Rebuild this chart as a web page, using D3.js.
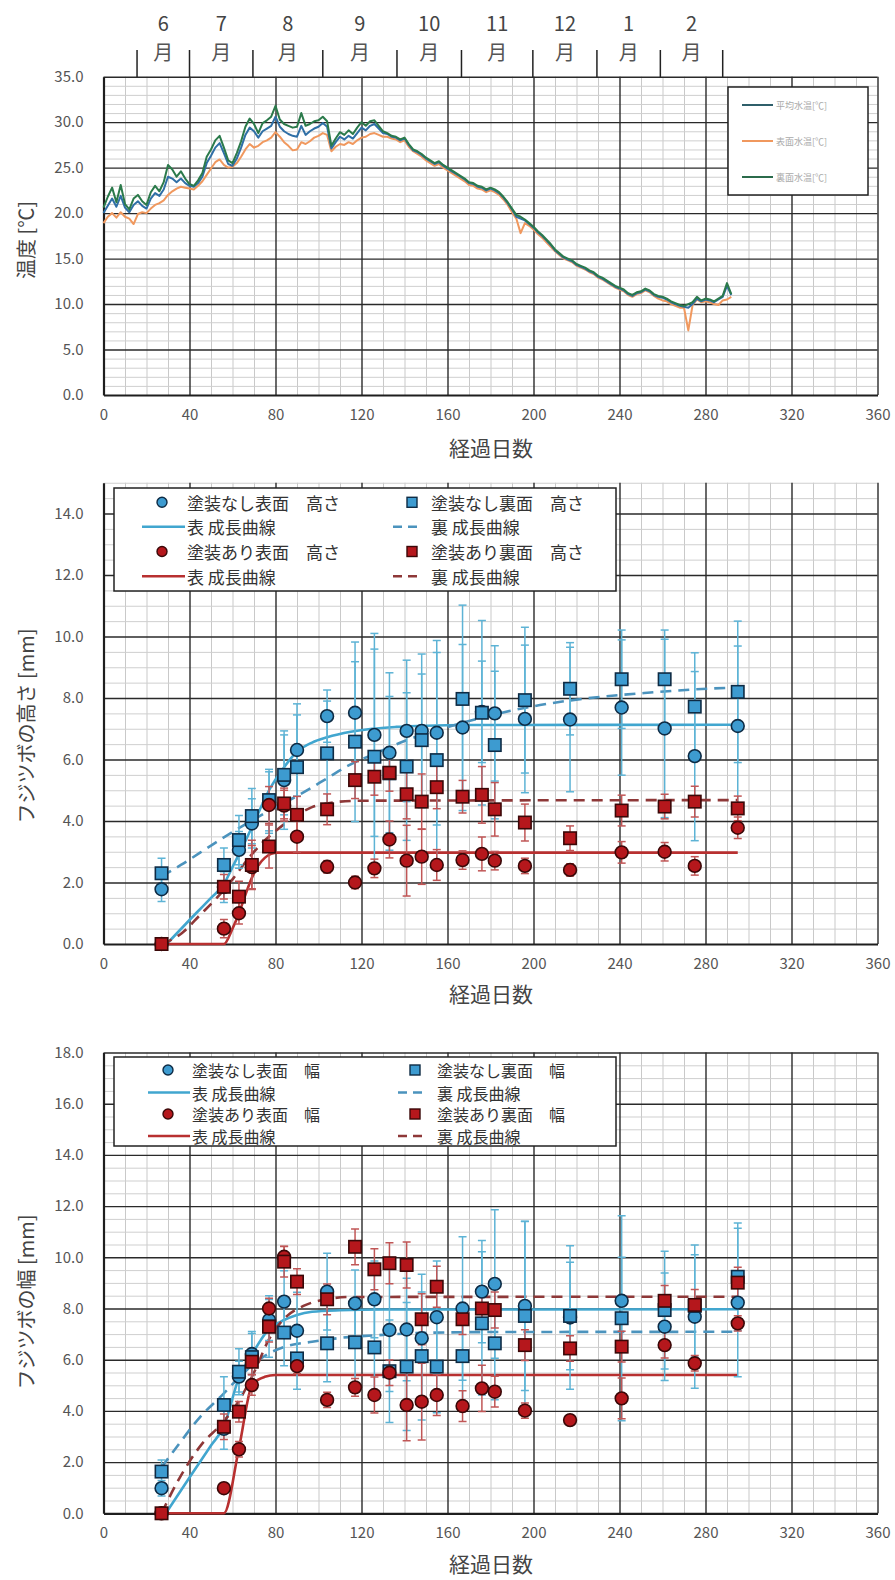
<!DOCTYPE html>
<html>
<head>
<meta charset="utf-8">
<script src="https://cdn.jsdelivr.net/npm/d3@7"></script>
<style>
  body { margin: 0; background: #fff; }
  svg text { font-family: "Noto Sans CJK JP", "Noto Sans", sans-serif; }
</style>
</head>
<body>
<svg id="chart" width="895" height="1580"></svg>
<script>
// ---------------- Water temperature (every 2 days from day 0) ----------------
const TEMP_START = 0;
const TEMP_STEP = 2;
const tempBack = [ // 裏面水温
  20.6, 21.8, 22.8, 21.2, 23.1, 21.0, 20.4, 21.6, 22.0, 21.3,
  20.9, 22.3, 23.0, 22.4, 23.4, 25.3, 24.8, 24.0, 24.6, 23.8,
  23.2, 23.0, 23.6, 24.4, 26.2, 27.0, 28.0, 28.5, 27.2, 25.8,
  25.5, 26.6, 27.9, 29.5, 30.4, 29.8, 28.8, 29.9, 30.2, 30.6,
  31.8, 30.3, 29.8, 29.6, 29.4, 29.5, 31.0, 29.6, 29.8, 30.1,
  30.2, 30.6, 30.1, 27.4, 28.2, 28.9, 28.6, 29.1, 28.7, 29.4,
  30.0, 29.6, 30.1, 30.2, 29.6, 29.0, 28.8, 28.5, 28.4, 28.1,
  28.3, 27.6, 27.0, 26.8, 26.5, 26.1, 25.8, 25.5, 25.7, 25.3,
  25.0, 24.7, 24.4, 24.1, 23.8, 23.4, 23.3, 23.0, 22.9, 22.6,
  22.8, 22.6, 22.3, 21.8, 21.2, 20.5, 19.8, 19.6, 19.3, 18.9,
  18.5, 18.0, 17.6, 17.1, 16.6, 16.0, 15.6, 15.2, 15.0, 14.8,
  14.4, 14.2, 14.0, 13.7, 13.5, 13.1, 12.9, 12.6, 12.3, 12.0,
  11.8, 11.6, 11.2, 11.0, 11.3, 11.4, 11.7, 11.5, 11.1, 10.9,
  10.8, 10.6, 10.3, 10.1, 9.9, 9.8, 10.0, 10.2, 10.8, 10.4,
  10.6, 10.5, 10.3, 10.6, 10.9, 12.3, 11.1
];
const tempMean = [ // 平均水温
  20.0, 20.8, 21.6, 20.7, 21.9, 20.6, 20.1, 20.9, 21.3, 20.8,
  20.5, 21.6, 22.2, 21.9, 22.6, 24.0, 23.8, 23.4, 23.8, 23.3,
  23.0, 22.9, 23.3, 24.0, 25.5, 26.3, 27.2, 27.7, 26.6, 25.4,
  25.2, 26.0, 27.2, 28.6, 29.4, 29.0, 28.3, 29.0, 29.3, 29.6,
  30.6, 29.5, 29.0, 28.7, 28.5, 28.4, 29.6, 28.6, 29.0, 29.3,
  29.5, 29.9, 29.5, 27.1, 27.8, 28.4, 28.1, 28.5, 28.2, 28.8,
  29.4, 29.1, 29.6, 29.8, 29.3, 28.8, 28.7, 28.4, 28.3, 28.0,
  28.2, 27.5, 26.9, 26.7, 26.4, 26.0, 25.7, 25.4, 25.6, 25.2,
  24.9, 24.6, 24.3, 24.0, 23.7, 23.3, 23.2, 22.9, 22.8, 22.5,
  22.7, 22.5, 22.2, 21.7, 21.1, 20.4, 19.6, 19.4, 19.2, 18.8,
  18.4, 17.9, 17.5, 17.0, 16.5, 15.9, 15.5, 15.1, 14.9, 14.7,
  14.3, 14.1, 13.9, 13.6, 13.4, 13.0, 12.8, 12.5, 12.2, 11.9,
  11.7, 11.5, 11.1, 10.9, 11.2, 11.3, 11.6, 11.4, 11.0, 10.8,
  10.7, 10.5, 10.2, 10.0, 9.8, 9.7, 9.6, 10.0, 10.6, 10.3,
  10.5, 10.4, 10.2, 10.5, 10.8, 12.0, 11.0
];
const tempFront = [ // 表面水温
  18.9, 19.6, 20.0, 19.5, 20.1, 19.6, 19.4, 18.8, 19.9, 20.1,
  20.0, 20.5, 20.9, 21.1, 21.4, 22.0, 22.4, 22.7, 22.9, 22.8,
  22.7, 22.6, 23.0, 23.5, 24.2, 24.9, 25.6, 25.9, 25.3, 25.0,
  25.1, 25.5, 26.2, 27.0, 27.6, 27.2, 27.4, 27.8, 28.0, 28.3,
  28.9, 28.4, 27.8, 27.4, 26.9, 27.0, 27.8, 27.6, 27.9, 28.3,
  28.5, 28.8, 28.6, 26.8, 27.3, 27.6, 27.5, 27.8, 27.6, 28.0,
  28.3, 28.4, 28.7, 28.8, 28.6, 28.4, 28.4, 28.2, 28.1, 27.8,
  28.0, 27.3, 26.8, 26.5, 26.2, 25.8, 25.5, 25.2, 25.4, 25.0,
  24.7, 24.4, 24.1, 23.8, 23.5, 23.1, 23.0, 22.7, 22.6, 22.3,
  22.5, 22.3, 22.0, 21.5, 20.9, 20.1, 19.4, 17.8, 18.9, 18.6,
  18.2, 17.7, 17.3, 16.8, 16.3, 15.8, 15.4, 15.0, 14.8, 14.6,
  14.2, 14.0, 13.8, 13.5, 13.3, 12.9, 12.7, 12.4, 12.1, 11.8,
  11.6, 11.4, 11.0, 10.8, 11.1, 11.2, 11.5, 11.3, 10.9, 10.6,
  10.4, 10.3, 10.0, 9.8, 9.6, 9.6, 7.1, 9.9, 10.5, 10.2,
  10.3, 10.2, 10.0, 9.9, 10.4, 10.5, 10.8
];
const tempSeriesNames = ["平均水温[℃]", "表面水温[℃]", "裏面水温[℃]"];

// Month band above the temperature chart (boundaries in elapsed days)
const monthEdges = [15.6, 40, 69.5, 102, 136.5, 166.5, 199.7, 229.5, 259, 288];
const monthLabels = ["6", "7", "8", "9", "10", "11", "12", "1", "2"];

// ---------------- Barnacle measurements ----------------
const sampleDays = [27, 56, 63, 69, 77, 84, 90, 104, 117, 126, 133, 141, 148, 155, 167, 176, 182, 196, 217, 241, 261, 275, 295];

// Height [mm]
const hUncoatedFront   = [1.78, 1.85, 3.06, 3.92, 4.6, 5.33, 6.31, 7.41, 7.52, 6.8, 6.22, 6.93, 6.93, 6.87, 7.04, 7.55, 7.5, 7.32, 7.3, 7.69, 7.01, 6.11, 7.09];
const hUncoatedFrontSd = [0.4, 0.5, 0.6, 0.8, 1.0, 1.6, 1.5, 0.85, 2.3, 3.3, 2.6, 2.3, 2.5, 3.0, 2.7, 1.65, 2.2, 2.4, 2.35, 2.2, 2.9, 2.75, 2.6];
const hUncoatedBack    = [2.3, 2.57, 3.38, 4.16, 4.68, 5.5, 5.75, 6.2, 6.58, 6.09, 5.55, 5.77, 6.63, 5.98, 7.97, 7.52, 6.47, 7.93, 8.3, 8.61, 8.61, 7.72, 8.2];
const hUncoatedBackSd  = [0.49, 0.55, 0.8, 0.9, 1.0, 1.3, 1.7, 1.7, 2.6, 3.5, 2.5, 2.4, 2.15, 3.5, 3.05, 3.0, 2.4, 2.37, 1.5, 1.6, 1.6, 1.75, 2.3];
const hCoatedFront     = [0, 0.5, 1.0, 2.5, 4.52, 4.5, 3.49, 2.51, 2.0, 2.46, 3.4, 2.71, 2.84, 2.57, 2.73, 2.93, 2.71, 2.54, 2.41, 2.98, 3.0, 2.54, 3.78];
const hCoatedFrontSd   = [0, 0.3, 0.35, 0.7, 0.6, 0.5, 0.5, 0.2, 0.2, 0.3, 0.6, 1.15, 0.9, 0.5, 0.3, 0.55, 0.3, 0.25, 0.2, 0.35, 0.3, 0.3, 0.35];
const hCoatedBack      = [0, 1.86, 1.54, 2.57, 3.17, 4.57, 4.2, 4.38, 5.33, 5.44, 5.57, 4.87, 4.63, 5.1, 4.79, 4.85, 4.38, 3.95, 3.44, 4.34, 4.47, 4.63, 4.41];
const hCoatedBackSd    = [0, 0.4, 0.5, 0.8, 0.7, 0.5, 0.6, 0.5, 0.6, 0.6, 0.6, 0.8, 0.9, 0.7, 0.53, 0.92, 0.87, 0.6, 0.4, 0.5, 0.4, 0.5, 0.4];

// Height growth curves
const hCurveUncFrontX = [29.4, 40, 50, 56, 60, 65, 70, 77, 84, 90, 97, 104, 115, 125, 136, 150, 170, 295];
const hCurveUncFrontY = [0, 0.78, 1.5, 1.95, 2.5, 3.2, 3.95, 5.0, 5.75, 6.25, 6.55, 6.72, 6.9, 7.0, 7.06, 7.1, 7.12, 7.13];
const hCurveUncBackX  = [27, 36, 50, 59, 70, 80, 91, 104, 113, 125, 140, 155, 170, 184, 203, 225, 253, 283, 295];
const hCurveUncBackY  = [2.2, 2.57, 3.2, 3.6, 4.05, 4.45, 4.85, 5.39, 5.77, 6.15, 6.6, 6.95, 7.25, 7.5, 7.77, 7.99, 8.17, 8.31, 8.34];
const hCurveCoFrontX  = [27, 56, 60, 63, 66, 69, 72, 75, 78, 81, 295];
const hCurveCoFrontY  = [0, 0, 0.5, 1.0, 1.6, 2.15, 2.55, 2.8, 2.93, 2.97, 2.97];
const hCurveCoBackX   = [27, 36.4, 45, 52.6, 60, 67, 74, 80.5, 86, 91.4, 97, 103.8, 110, 120, 295];
const hCurveCoBackY   = [0, 0.35, 0.95, 1.49, 2.1, 2.75, 3.3, 3.7, 4.0, 4.25, 4.45, 4.57, 4.63, 4.66, 4.68];

// Width [mm]
const wUncoatedFront   = [0.98, 3.3, 5.34, 6.22, 7.55, 8.27, 7.13, 8.66, 8.2, 8.36, 7.16, 7.18, 6.84, 7.66, 8.0, 8.66, 8.96, 8.1, 7.65, 8.3, 7.29, 7.68, 8.23];
const wUncoatedFrontSd = [0.3, 0.8, 0.6, 0.8, 0.8, 1.2, 1.5, 1.5, 1.3, 1.5, 2.4, 2.0, 2.5, 2.2, 2.8, 2.0, 2.9, 3.3, 2.8, 1.7, 2.1, 2.8, 2.9];
const wUncoatedBack    = [1.63, 4.23, 5.53, 6.1, 7.3, 7.06, 6.05, 6.64, 6.68, 6.48, 5.55, 5.73, 6.14, 5.73, 6.14, 7.42, 6.64, 7.71, 7.71, 7.62, 7.94, 8.1, 9.24];
const wUncoatedBackSd  = [0.45, 1.1, 0.9, 1.0, 1.2, 1.3, 1.2, 1.5, 1.6, 1.8, 2.0, 2.5, 2.5, 1.8, 1.9, 2.8, 2.2, 3.7, 2.1, 4.0, 2.3, 2.0, 2.1];
const wCoatedFront     = [0, 0.98, 2.5, 5.01, 8.0, 10.02, 5.75, 4.43, 4.92, 4.62, 5.49, 4.23, 4.36, 4.62, 4.19, 4.88, 4.75, 4.01, 3.64, 4.49, 6.57, 5.86, 7.42];
const wCoatedFrontSd   = [0, 0.2, 0.3, 0.4, 0.4, 0.4, 0.3, 0.3, 0.35, 0.7, 0.5, 1.4, 1.5, 0.8, 0.6, 0.9, 0.6, 0.3, 0.2, 0.8, 0.5, 0.3, 0.3];
const wCoatedBack      = [0, 3.38, 3.97, 5.92, 7.29, 9.83, 9.05, 8.36, 10.41, 9.53, 9.77, 9.7, 7.58, 8.85, 7.58, 8.0, 7.94, 6.57, 6.44, 6.51, 8.3, 8.14, 9.01];
const wCoatedBackSd    = [0, 0.5, 0.4, 0.5, 0.6, 0.6, 0.5, 0.6, 0.7, 0.8, 0.8, 0.9, 1.0, 0.8, 0.6, 0.7, 0.7, 0.6, 0.5, 0.6, 0.6, 0.6, 0.6];

// Width growth curves
const wCurveUncFrontX = [29, 40, 50, 56, 63, 69, 76, 84, 90, 97, 110, 130, 295];
const wCurveUncFrontY = [0, 1.4, 2.65, 3.4, 5.3, 6.2, 7.1, 7.55, 7.75, 7.87, 7.93, 7.96, 7.97];
const wCurveUncBackX  = [27, 33, 45, 55, 63, 70, 76, 84, 97, 110, 130, 150, 180, 295];
const wCurveUncBackY  = [1.8, 2.47, 3.77, 4.6, 5.3, 5.85, 6.2, 6.5, 6.7, 6.85, 6.97, 7.05, 7.08, 7.09];
const wCurveCoFrontX  = [27, 56, 63, 69, 72, 75, 80, 295];
const wCurveCoFrontY  = [0, 0, 2.54, 5.0, 5.22, 5.33, 5.4, 5.4];
const wCurveCoBackX   = [27, 34, 46, 55, 63, 70, 77, 84, 93, 103, 115, 295];
const wCurveCoBackY   = [0, 1.17, 2.73, 3.5, 4.4, 5.5, 6.8, 7.6, 8.1, 8.35, 8.45, 8.46];

// ---------------- Drawing ----------------
const svg = d3.select("#chart");
const x = d3.scaleLinear().domain([0, 360]).range([103.5, 877.5]);
const xMajor = d3.range(0, 361, 40);
const xMinor = d3.range(0, 361, 10);
const fmt1 = d3.format(".1f");

const BLUE_FILL = "#3d9bd0", BLUE_EDGE = "#0e2b44", BLUE_LINE = "#41a6cf", BLUE_DASH = "#4b93bd", BLUE_ERR = "#5db3d5";
const RED_FILL = "#b5171c", RED_EDGE = "#3a0808", RED_LINE = "#b83030", RED_DASH = "#8e3838", RED_ERR = "#c05656";

function frame(y, cfg) {
  const g = svg.append("g");
  const [yBot, yTop] = y.range();
  const h = yBot - yTop;
  const minorY = d3.range(0, cfg.max + 1e-9, cfg.minor).filter(v => Math.abs(v / cfg.major - Math.round(v / cfg.major)) > 1e-6);
  const majorY = d3.range(0, cfg.max + 1e-9, cfg.major);

  // minor grid
  g.append("g").attr("transform", `translate(0,${yBot})`)
    .call(d3.axisBottom(x).tickValues(xMinor.filter(d => d % 40 !== 0)).tickSize(-h).tickFormat(""))
    .call(s => { s.select(".domain").remove(); s.selectAll("line").attr("stroke", "#c9c9c9").attr("stroke-width", 1); });
  g.append("g").attr("transform", `translate(${x(0)},0)`)
    .call(d3.axisLeft(y).tickValues(minorY).tickSize(-(x(360) - x(0))).tickFormat(""))
    .call(s => { s.select(".domain").remove(); s.selectAll("line").attr("stroke", "#cfcfcf").attr("stroke-width", 1); });
  // major grid
  g.append("g").attr("transform", `translate(0,${yBot})`)
    .call(d3.axisBottom(x).tickValues(xMajor.slice(1)).tickSize(-h).tickFormat(""))
    .call(s => { s.select(".domain").remove(); s.selectAll("line").attr("stroke", "#2a2a2a").attr("stroke-width", 1.4); });
  g.append("g").attr("transform", `translate(${x(0)},0)`)
    .call(d3.axisLeft(y).tickValues(majorY.slice(1)).tickSize(-(x(360) - x(0))).tickFormat(""))
    .call(s => { s.select(".domain").remove(); s.selectAll("line").attr("stroke", "#2a2a2a").attr("stroke-width", 1.4); });

  // axis lines with labels
  g.append("g").attr("transform", `translate(0,${yBot})`)
    .call(d3.axisBottom(x).tickValues(xMajor).tickSize(0).tickPadding(cfg.xPad).tickFormat(d3.format("d")))
    .call(s => {
      s.select(".domain").attr("stroke", "#1e1e1e").attr("stroke-width", 2.2);
      s.selectAll("text").attr("font-size", 15).attr("fill", "#555").attr("font-family", '"Noto Sans CJK JP", sans-serif');
    });
  g.append("g").attr("transform", `translate(${x(0)},0)`)
    .call(d3.axisLeft(y).tickValues(cfg.labels).tickSize(0).tickPadding(20).tickFormat(fmt1))
    .call(s => {
      s.select(".domain").attr("stroke", "#1e1e1e").attr("stroke-width", 2.2);
      s.selectAll("text").attr("font-size", 15).attr("fill", "#555").attr("font-family", '"Noto Sans CJK JP", sans-serif');
    });

  // titles
  g.append("text").attr("x", 491).attr("y", cfg.xTitleY).attr("text-anchor", "middle")
    .attr("dominant-baseline", "central").attr("font-size", 21).attr("fill", "#444").text("経過日数");
  g.append("text").attr("transform", `translate(25,${cfg.yTitleCy}) rotate(-90)`).attr("text-anchor", "middle")
    .attr("dominant-baseline", "central").attr("font-size", 20).attr("fill", "#444").text(cfg.yTitle);
  return g;
}

// ===== Temperature panel =====
const yT = d3.scaleLinear().domain([0, 35]).range([395, 76.7]);
frame(yT, { max: 35, major: 5, minor: 1, labels: d3.range(0, 36, 5), xPad: 14, xTitleY: 447, yTitleCy: 240, yTitle: "温度 [℃]" });

const tempLine = d3.line().x((v, i) => x(TEMP_START + i * TEMP_STEP)).y(v => yT(v));
const tempSeries = [
  { vals: tempFront, color: "#f0985e" },
  { vals: tempMean, color: "#2f6fa6" },
  { vals: tempBack, color: "#2b7a4b" }
];
svg.append("g").selectAll("path").data(tempSeries).join("path")
  .attr("d", s => tempLine(s.vals)).attr("fill", "none")
  .attr("stroke", s => s.color).attr("stroke-width", 2).attr("stroke-linejoin", "round");

// temperature legend
const tl = svg.append("g");
tl.append("rect").attr("x", 728).attr("y", 87).attr("width", 140).attr("height", 108)
  .attr("fill", "#fff").attr("stroke", "#222").attr("stroke-width", 1.5);
const tlColors = ["#2f5f6a", "#f0985e", "#2b6b4b"];
tempSeriesNames.forEach((name, i) => {
  const yy = 105 + i * 36;
  tl.append("line").attr("x1", 742).attr("x2", 773).attr("y1", yy).attr("y2", yy)
    .attr("stroke", tlColors[i]).attr("stroke-width", 2);
  tl.append("text").attr("x", 776).attr("y", yy).attr("dominant-baseline", "central")
    .attr("font-size", 9).attr("fill", "#aaa").text(name);
});

// month band
const mb = svg.append("g");
mb.selectAll("line").data(monthEdges).join("line")
  .attr("x1", d => x(d)).attr("x2", d => x(d)).attr("y1", 50).attr("y2", 77)
  .attr("stroke", "#222").attr("stroke-width", 1.5);
monthLabels.forEach((m, i) => {
  const cx = x((monthEdges[i] + monthEdges[i + 1]) / 2);
  mb.append("text").attr("x", cx).attr("y", 22).attr("text-anchor", "middle").attr("dominant-baseline", "central")
    .attr("font-size", 20).attr("fill", "#444").text(m);
  mb.append("text").attr("x", cx).attr("y", 51).attr("text-anchor", "middle").attr("dominant-baseline", "central")
    .attr("font-size", 20).attr("fill", "#555").text("月");
});

// ===== Scatter panels =====
function curve(g, y, xs, ys, color, dashed) {
  const line = d3.line().x(d => x(d[0])).y(d => y(d[1])).curve(d3.curveMonotoneX);
  g.append("path").attr("d", line(xs.map((d, i) => [d, ys[i]])))
    .attr("fill", "none").attr("stroke", color).attr("stroke-width", 2.6)
    .attr("stroke-dasharray", dashed ? "11,7" : null);
}
function errorBars(g, y, vals, sds, color) {
  const eg = g.append("g").attr("stroke", color).attr("stroke-width", 1.5);
  sampleDays.forEach((d, i) => {
    if (!(sds[i] > 0)) return;
    const cx = x(d), y1 = y(vals[i] + sds[i]), y2 = y(vals[i] - sds[i]);
    eg.append("line").attr("x1", cx).attr("x2", cx).attr("y1", y1).attr("y2", y2);
    eg.append("line").attr("x1", cx - 4).attr("x2", cx + 4).attr("y1", y1).attr("y2", y1);
    eg.append("line").attr("x1", cx - 4).attr("x2", cx + 4).attr("y1", y2).attr("y2", y2);
  });
}
function markers(g, y, vals, shape, fill, edge) {
  const mg = g.append("g");
  const pts = sampleDays.map((d, i) => [d, vals[i]]);
  if (shape === "circle") {
    mg.selectAll("circle").data(pts).join("circle")
      .attr("cx", p => x(p[0])).attr("cy", p => y(p[1])).attr("r", 6.4)
      .attr("fill", fill).attr("stroke", edge).attr("stroke-width", 1.6);
  } else {
    mg.selectAll("rect").data(pts).join("rect")
      .attr("x", p => x(p[0]) - 6.2).attr("y", p => y(p[1]) - 6.2).attr("width", 12.4).attr("height", 12.4)
      .attr("fill", fill).attr("stroke", edge).attr("stroke-width", 1.6);
  }
}
function legend(box, rows, labels) {
  const g = svg.append("g");
  g.append("rect").attr("x", box.x).attr("y", box.y).attr("width", box.w).attr("height", box.h)
    .attr("fill", "#fff").attr("stroke", "#222").attr("stroke-width", 1.5);
  const items = [
    { col: 0, row: 0, kind: "circle", fill: BLUE_FILL, edge: BLUE_EDGE },
    { col: 1, row: 0, kind: "square", fill: BLUE_FILL, edge: BLUE_EDGE },
    { col: 0, row: 1, kind: "line", color: BLUE_LINE },
    { col: 1, row: 1, kind: "dash", color: BLUE_DASH },
    { col: 0, row: 2, kind: "circle", fill: RED_FILL, edge: RED_EDGE },
    { col: 1, row: 2, kind: "square", fill: RED_FILL, edge: RED_EDGE },
    { col: 0, row: 3, kind: "line", color: RED_LINE },
    { col: 1, row: 3, kind: "dash", color: RED_DASH }
  ];
  items.forEach((it, i) => {
    const c = box.cols[it.col];
    const yy = rows[it.row];
    if (it.kind === "circle") {
      g.append("circle").attr("cx", c.mark).attr("cy", yy).attr("r", 5).attr("fill", it.fill).attr("stroke", it.edge).attr("stroke-width", 1.4);
    } else if (it.kind === "square") {
      g.append("rect").attr("x", c.mark - 5).attr("y", yy - 5).attr("width", 10).attr("height", 10).attr("fill", it.fill).attr("stroke", it.edge).attr("stroke-width", 1.4);
    } else {
      g.append("line").attr("x1", c.l1).attr("x2", c.l2).attr("y1", yy).attr("y2", yy)
        .attr("stroke", it.color).attr("stroke-width", 2.6).attr("stroke-dasharray", it.kind === "dash" ? "9,6" : null);
    }
    g.append("text").attr("x", c.text).attr("y", yy).attr("dominant-baseline", "central")
      .attr("font-size", box.fs).attr("fill", "#333").text(labels[i]);
  });
}

function scatterPanel(y, cfg, data) {
  frame(y, cfg);
  const clipId = "clip" + cfg.max;
  const [yBot, yTop] = y.range();
  svg.append("clipPath").attr("id", clipId).append("rect")
    .attr("x", x(0)).attr("y", yTop).attr("width", x(360) - x(0)).attr("height", yBot - yTop + 8);
  const g = svg.append("g").attr("clip-path", `url(#${clipId})`);
  curve(g, y, data.cUF[0], data.cUF[1], BLUE_LINE, false);
  curve(g, y, data.cUB[0], data.cUB[1], BLUE_DASH, true);
  curve(g, y, data.cCF[0], data.cCF[1], RED_LINE, false);
  curve(g, y, data.cCB[0], data.cCB[1], RED_DASH, true);
  errorBars(g, y, data.uf, data.ufSd, BLUE_ERR);
  errorBars(g, y, data.ub, data.ubSd, BLUE_ERR);
  errorBars(g, y, data.cf, data.cfSd, RED_ERR);
  errorBars(g, y, data.cb, data.cbSd, RED_ERR);
  markers(g, y, data.uf, "circle", BLUE_FILL, BLUE_EDGE);
  markers(g, y, data.ub, "square", BLUE_FILL, BLUE_EDGE);
  markers(g, y, data.cf, "circle", RED_FILL, RED_EDGE);
  markers(g, y, data.cb, "square", RED_FILL, RED_EDGE);
}

// ===== Height panel =====
const yH = d3.scaleLinear().domain([0, 15]).range([944, 944 - 15 * 30.75]);
scatterPanel(yH, { max: 15, major: 2, minor: 0.5, labels: d3.range(0, 15, 2), xPad: 14, xTitleY: 993, yTitleCy: 726, yTitle: "フジツボの高さ [mm]" }, {
  uf: hUncoatedFront, ufSd: hUncoatedFrontSd, ub: hUncoatedBack, ubSd: hUncoatedBackSd,
  cf: hCoatedFront, cfSd: hCoatedFrontSd, cb: hCoatedBack, cbSd: hCoatedBackSd,
  cUF: [hCurveUncFrontX, hCurveUncFrontY], cUB: [hCurveUncBackX, hCurveUncBackY],
  cCF: [hCurveCoFrontX, hCurveCoFrontY], cCB: [hCurveCoBackX, hCurveCoBackY]
});
legend({ x: 114, y: 488, w: 502, h: 103, fs: 17,
  cols: [{ mark: 162, l1: 142, l2: 185, text: 187 }, { mark: 412, l1: 393, l2: 420, text: 431 }] },
  [502.3, 526.8, 551.5, 576.3],
  ["塗装なし表面　高さ", "塗装なし裏面　高さ", "表 成長曲線", "裏 成長曲線",
   "塗装あり表面　高さ", "塗装あり裏面　高さ", "表 成長曲線", "裏 成長曲線"]);

// ===== Width panel =====
const yW = d3.scaleLinear().domain([0, 18]).range([1513.3, 1513.3 - 18 * 25.6]);
scatterPanel(yW, { max: 18, major: 2, minor: 0.5, labels: d3.range(0, 19, 2), xPad: 14, xTitleY: 1563, yTitleCy: 1302, yTitle: "フジツボの幅 [mm]" }, {
  uf: wUncoatedFront, ufSd: wUncoatedFrontSd, ub: wUncoatedBack, ubSd: wUncoatedBackSd,
  cf: wCoatedFront, cfSd: wCoatedFrontSd, cb: wCoatedBack, cbSd: wCoatedBackSd,
  cUF: [wCurveUncFrontX, wCurveUncFrontY], cUB: [wCurveUncBackX, wCurveUncBackY],
  cCF: [wCurveCoFrontX, wCurveCoFrontY], cCB: [wCurveCoBackX, wCurveCoBackY]
});
legend({ x: 114, y: 1057, w: 502, h: 89, fs: 16,
  cols: [{ mark: 168, l1: 148, l2: 190, text: 192 }, { mark: 415, l1: 398, l2: 424, text: 437 }] },
  [1070, 1092.5, 1114, 1136],
  ["塗装なし表面　幅", "塗装なし裏面　幅", "表 成長曲線", "裏 成長曲線",
   "塗装あり表面　幅", "塗装あり裏面　幅", "表 成長曲線", "裏 成長曲線"]);
</script>
</body>
</html>
